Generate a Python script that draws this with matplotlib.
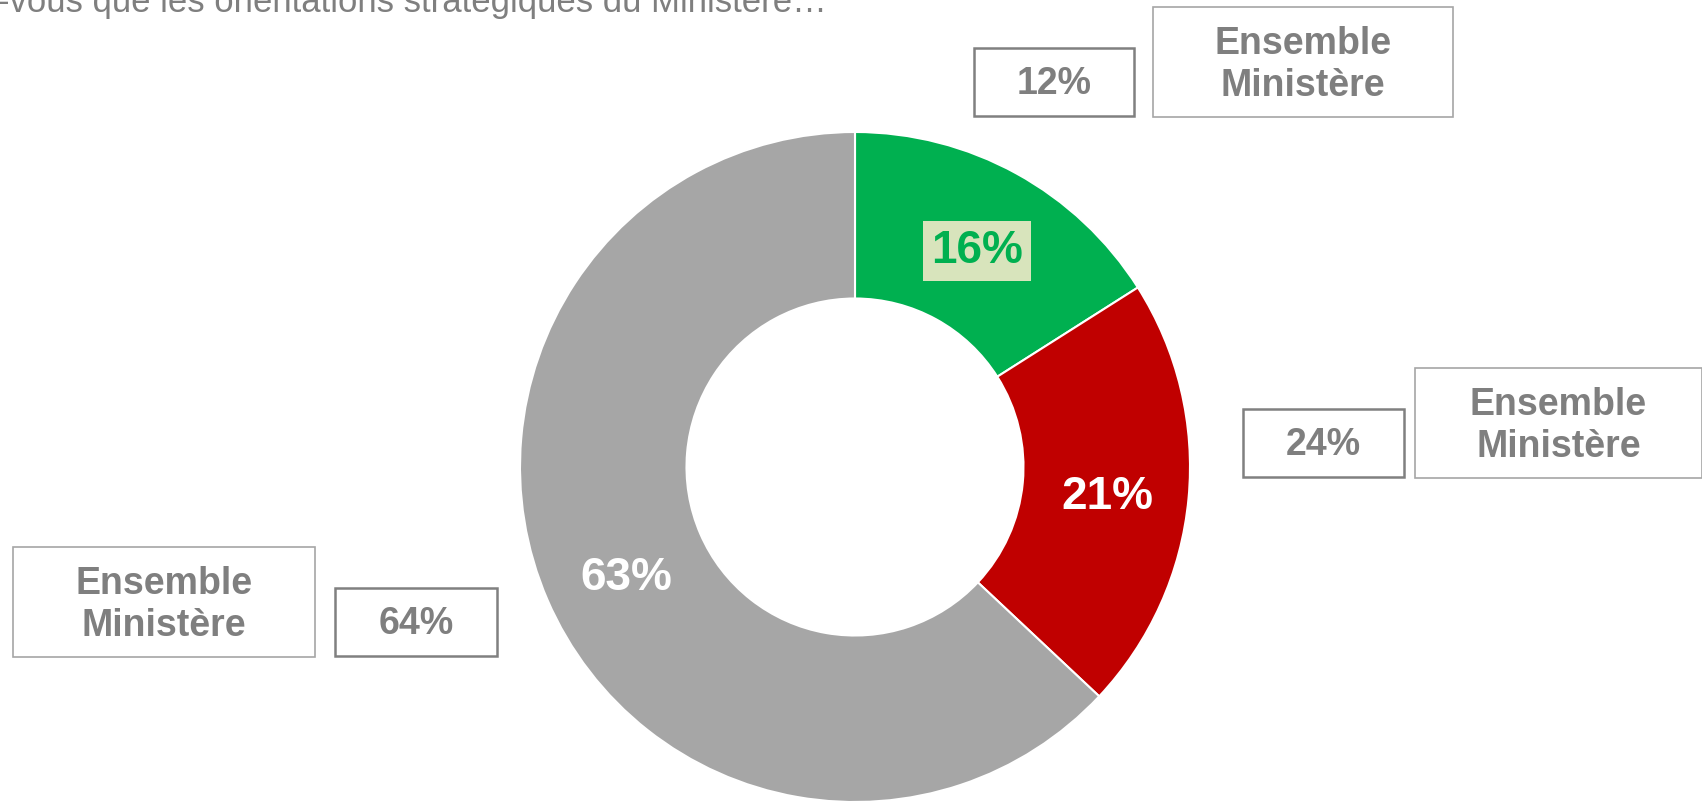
import matplotlib
matplotlib.use("Agg")
import matplotlib.pyplot as plt
from matplotlib.patches import Rectangle

plt.rcParams['font.family'] = ['Liberation Sans', 'DejaVu Sans']

# Data
categories = ["Oui", "Non", "Ne sait pas"]
values = [16, 21, 63]
colors = ["#00B050", "#C00000", "#A6A6A6"]
labels = ["16%", "21%", "63%"]
ministere_values = ["12%", "24%", "64%"]
ministere_label = "Ensemble\nMinistère"
title = "-vous que les orientations stratégiques du Ministère…"

W, H = 1702, 801
fig = plt.figure(figsize=(W / 100, H / 100), dpi=100)
ax = fig.add_axes([0, 0, 1, 1])

cx, cy = 855, H - 467
R = 335
wedges, _ = ax.pie(values, colors=colors, startangle=90, counterclock=False,
                   center=(cx, cy), radius=R,
                   wedgeprops=dict(width=R * 0.497, edgecolor="white", linewidth=1.5))
ax.set_xlim(0, W)
ax.set_ylim(0, H)
ax.set_aspect('auto')
ax.axis('off')

def py(y):
    return H - y

# wedge labels
ax.text(977, py(251), labels[0], ha='center', va='center', fontsize=33,
        fontweight='bold', color="#00B050",
        bbox=dict(boxstyle='square,pad=0.17', fc="#D8E4BC", ec='none'))
ax.text(1107, py(497), labels[1], ha='center', va='center', fontsize=33,
        fontweight='bold', color="white")
ax.text(626, py(578), labels[2], ha='center', va='center', fontsize=33,
        fontweight='bold', color="white")

txt_col = "#7F7F7F"

def box(x0, y0, x1, y1, ec, lw):
    ax.add_patch(Rectangle((x0, py(y1)), x1 - x0, y1 - y0, fill=False,
                           edgecolor=ec, linewidth=lw, clip_on=False))

# number boxes (x0, y0, x1, y1)
num_boxes = [(974, 48, 1134, 116), (1243, 409, 1404, 477), (335, 588, 497, 656)]
ens_boxes = [(1153, 7, 1453, 117), (1415, 368, 1702, 478), (13, 547, 315, 657)]
for (x0, y0, x1, y1), v in zip(num_boxes, ministere_values):
    box(x0, y0, x1, y1, "#808080", 1.8)
    ax.text((x0 + x1) / 2, py((y0 + y1) / 2 + 2), v, ha='center', va='center',
            fontsize=27, fontweight='bold', color=txt_col)
for (x0, y0, x1, y1) in ens_boxes:
    box(x0, y0, x1, y1, "#A6A6A6", 1.2)
    ax.text((x0 + x1) / 2, py((y0 + y1) / 2 + 3), ministere_label, ha='center',
            va='center', fontsize=27, fontweight='bold', color=txt_col,
            linespacing=1.2)

ax.text(-2, py(12), title, ha='left', va='baseline', fontsize=25,
        color="#7F7F7F")

fig.savefig("out.png", dpi=100)
